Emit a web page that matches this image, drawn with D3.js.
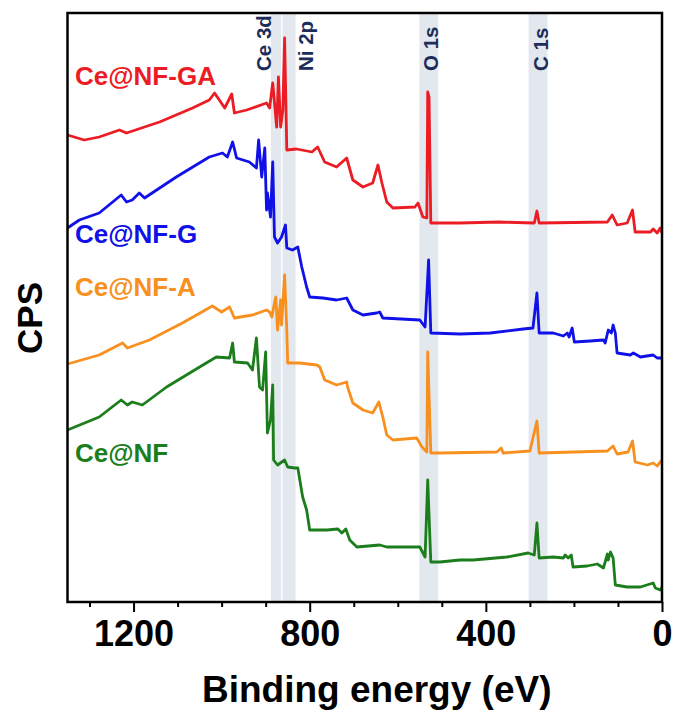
<!DOCTYPE html>
<html>
<head>
<meta charset="utf-8">
<script src="https://cdn.jsdelivr.net/npm/d3@7"></script>
<style>
body { margin: 0; background: #fff; }
text { font-family: Arial, "Liberation Sans", sans-serif; }
</style>
</head>
<body>
<div id="xps"></div>
<script>
// XPS survey spectra: [binding energy (eV), intensity (a.u., stacked offsets included)]
var ceNfGa = [
	[1350,467],[1312,462],[1278,465],[1232,472],[1216,469],[1141,480],[1066,494],[1028,502],
	[1016,509],[993,494],[977,508],[971,489],[943,492],[898,499],[891,494],[884,519],[875,475],
	[871,525],[866,475],[861,492],[857,564],[852,452],[830,453],[795,450],[782,455],[766,440],
	[739,435],[716,444],[702,422],[679,415],[657,419],[645,437],[636,419],[625,400],[611,394],
	[561,395],[554,399],[543,385],[534,384],[532,510],[529,505],[525,379],[459,379],[370,380],
	[290,379],[284,391],[279,379],[124,380],[113,387],[102,377],[79,379],[67,392],[61,370],
	[26,370],[20,373],[11,369],[4,374],[0,369]
];
var ceNfG = [
	[1350,374],[1323,382],[1278,389],[1228,407],[1216,400],[1203,402],[1187,409],[1175,404],
	[1103,425],[1028,445],[998,449],[987,445],[975,460],[966,444],[937,440],[921,434],[916,462],
	[909,425],[902,454],[898,392],[896,409],[889,385],[884,440],[880,365],[873,359],[864,365],
	[855,377],[852,354],[839,352],[827,355],[818,335],[807,315],[800,305],[770,304],[739,302],
	[716,304],[702,292],[679,287],[648,289],[641,290],[634,284],[550,282],[538,275],[530,342],
	[525,269],[459,268],[390,269],[315,273],[293,274],[284,309],[279,269],[247,269],[224,266],
	[215,269],[211,265],[204,274],[199,260],[163,261],[133,262],[129,259],[122,272],[115,269],
	[111,277],[106,269],[102,249],[72,247],[65,249],[49,245],[20,247],[11,244],[0,244]
];
var ceNfA = [
	[1350,238],[1278,247],[1225,259],[1214,254],[1164,262],[1089,279],[1021,296],[1000,290],
	[982,295],[971,284],[930,287],[898,292],[891,290],[886,285],[880,299],[877,305],[873,272],
	[866,302],[864,277],[857,327],[852,272],[850,239],[823,239],[784,237],[777,235],[766,222],
	[739,217],[716,220],[714,215],[702,199],[679,192],[657,189],[643,200],[634,185],[625,167],
	[611,162],[557,164],[545,155],[534,150],[532,250],[525,149],[504,149],[375,150],[365,154],
	[361,149],[300,151],[284,181],[279,149],[199,150],[124,151],[111,156],[102,148],[77,150],
	[67,161],[61,140],[33,137],[20,139],[11,136],[0,142]
];
var ceNf = [
	[1350,172],[1278,185],[1228,202],[1214,197],[1203,200],[1180,197],[1125,215],[1050,235],
	[1012,245],[982,244],[975,259],[971,240],[941,239],[930,232],[921,264],[914,215],[907,212],
	[900,250],[896,169],[889,182],[884,217],[882,142],[873,137],[857,142],[850,135],[834,134],
	[827,134],[816,105],[807,92],[800,72],[761,72],[736,73],[727,69],[718,73],[709,62],[693,55],
	[641,57],[625,55],[550,55],[538,45],[532,122],[525,40],[504,40],[459,42],[429,42],[352,45],
	[304,49],[290,47],[284,79],[279,44],[247,45],[224,44],[220,47],[213,44],[206,47],[202,35],
	[170,36],[147,38],[133,34],[124,48],[122,42],[117,50],[111,44],[106,17],[79,15],[49,15],
	[20,19],[15,14],[4,12],[0,15]
];

var seriesData = [ceNfGa, ceNfG, ceNfA, ceNf];
var seriesNames = ['Ce@NF-GA', 'Ce@NF-G', 'Ce@NF-A', 'Ce@NF'];
var seriesColors = ['#ec1c24', '#1010e8', '#f7901e', '#1b7d1b'];

var bandNames = ['Ce 3d', 'Ni 2p', 'O 1s', 'C 1s'];
var bandRanges = [[888, 865], [862, 832], [551, 508], [303, 260]];

var majorTicks = [1200, 800, 400, 0];
var minorTicks = [1300, 1100, 1000, 900, 700, 600, 500, 300, 200, 100];

var chart_width = 680, chart_height = 711;
var plotLeft = 67.5, plotRight = 662, plotTop = 13, plotBottom = 602;

var svg = d3.select('#xps')
	.append('svg')
	.attr('width', chart_width)
	.attr('height', chart_height);

var x_scale = d3.scaleLinear().domain([1350, 0]).range([plotLeft, plotRight]);
var y_scale = d3.scaleLinear().domain([0, plotBottom - plotTop]).range([plotBottom, plotTop]);

// shaded bands for the core levels
svg.append('g').selectAll('rect')
	.data(bandRanges)
	.enter()
	.append('rect')
	.attr('x', function(d){ return x_scale(d[0]); })
	.attr('width', function(d){ return x_scale(d[1]) - x_scale(d[0]); })
	.attr('y', plotTop)
	.attr('height', plotBottom - plotTop)
	.attr('fill', '#e3e8ee');

// band labels, rotated
var labelShift = [0, 17, 0, 0];
svg.append('g').selectAll('text')
	.data(bandNames)
	.enter()
	.append('text')
	.attr('transform', function(d, i){
		var bx = i === 0 ? x_scale(bandRanges[i][0]) : x_scale(bandRanges[i][1]) + labelShift[i];
		return 'translate(' + bx + ',71) rotate(-90)';
	})
	.attr('font-size', 20.5)
	.attr('font-weight', 'bold')
	.attr('fill', '#1c2d5a')
	.text(function(d){ return d; });

// spectra
var line = d3.line()
	.x(function(d){ return x_scale(d[0]); })
	.y(function(d){ return y_scale(d[1]); });

svg.append('g').selectAll('path')
	.data(seriesData)
	.enter()
	.append('path')
	.attr('d', line)
	.attr('fill', 'none')
	.attr('stroke', function(d, i){ return seriesColors[i]; })
	.attr('stroke-width', 2.8)
	.attr('stroke-linejoin', 'round');

// series names
var nameY = [85, 243, 296, 462];
svg.append('g').selectAll('text')
	.data(seriesNames)
	.enter()
	.append('text')
	.attr('x', 75)
	.attr('y', function(d, i){ return nameY[i]; })
	.attr('font-size', 26)
	.attr('font-weight', 'bold')
	.attr('fill', function(d, i){ return seriesColors[i]; })
	.text(function(d){ return d; });

// frame
svg.append('rect')
	.attr('x', plotLeft)
	.attr('y', plotTop)
	.attr('width', plotRight - plotLeft)
	.attr('height', plotBottom - plotTop)
	.attr('fill', 'none')
	.attr('stroke', '#000')
	.attr('stroke-width', 2.5);

// x axis
var x_axis = d3.axisBottom(x_scale)
	.tickValues(majorTicks)
	.tickSize(10)
	.tickPadding(8)
	.tickFormat(d3.format('d'));
var gx = svg.append('g')
	.attr('transform', 'translate(0,' + plotBottom + ')')
	.call(x_axis);
gx.select('.domain').remove();
gx.selectAll('.tick line').attr('stroke-width', 2);
gx.selectAll('.tick text')
	.attr('font-size', 36)
	.attr('font-weight', 'bold')
	.attr('font-family', 'Arial, "Liberation Sans", sans-serif')
	.attr('fill', '#000');

var x_minor = d3.axisBottom(x_scale)
	.tickValues(minorTicks)
	.tickSize(5)
	.tickFormat('');
var gm = svg.append('g')
	.attr('transform', 'translate(0,' + plotBottom + ')')
	.call(x_minor);
gm.select('.domain').remove();
gm.selectAll('.tick line').attr('stroke-width', 2);

// axis titles
svg.append('text')
	.attr('x', (plotLeft + plotRight) / 2 + 12)
	.attr('y', 702)
	.attr('text-anchor', 'middle')
	.attr('font-size', 37)
	.attr('font-weight', 'bold')
	.text('Binding energy (eV)');

svg.append('text')
	.attr('transform', 'translate(42,318) rotate(-90)')
	.attr('text-anchor', 'middle')
	.attr('font-size', 35)
	.attr('font-weight', 'bold')
	.text('CPS');
</script>
</body>
</html>
